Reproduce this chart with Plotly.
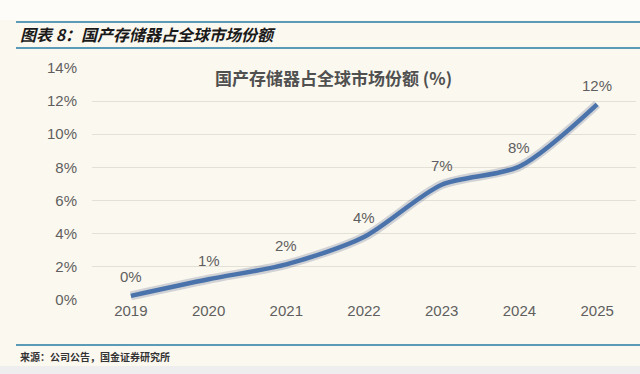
import plotly.graph_objects as go

years = [2019, 2020, 2021, 2022, 2023, 2024, 2025]
share = [0.25, 1.25, 2.15, 3.8, 6.95, 8.05, 11.8]
labels = ["0%", "1%", "2%", "4%", "7%", "8%", "12%"]
y_ticks = [0, 2, 4, 6, 8, 10, 12, 14]
y_tick_text = ["0%", "2%", "4%", "6%", "8%", "10%", "12%", "14%"]

fig_title = "图表 8：国产存储器占全球市场份额"
chart_title = "国产存储器占全球市场份额 (%)"
source = "来源：公司公告，国金证券研究所"

CJK = "Noto Sans CJK SC"
grey = "#5f5f5f"

fig = go.Figure()
# soft shadow
fig.add_trace(go.Scatter(x=years, y=share, mode="lines",
                         line=dict(color="rgba(40,60,110,0.2)", width=9, shape="spline", smoothing=0.8),
                         hoverinfo="skip", showlegend=False))
fig.add_trace(go.Scatter(x=years, y=share, mode="lines",
                         line=dict(color="#4a73ab", width=4.5, shape="spline", smoothing=0.8),
                         showlegend=False))

for x, y, t in zip(years, share, labels):
    fig.add_annotation(x=x, y=y, text=t, showarrow=False, yshift=19,
                       font=dict(family="Liberation Sans, Arial", size=15, color=grey))

H, T, B = 374, 67, 74
L, R = 92, 4
ph = H - T - B
pw = 640 - L - R


def py(p):
    return (H - B - p) / ph


def px(p):
    return (p - L) / pw


fig.update_layout(
    width=640, height=374,
    margin=dict(l=L, r=R, t=T, b=B),
    paper_bgcolor="#fbf8ef",
    plot_bgcolor="#fbf8ef",
    xaxis=dict(range=[2018.5, 2025.5], tickvals=years, ticktext=[str(y) for y in years],
               showgrid=False, zeroline=False, showline=False, ticks="",
               tickfont=dict(family="Liberation Sans, Arial", size=15, color=grey)),
    yaxis=dict(range=[0, 14.05], tickvals=y_ticks, ticktext=y_tick_text,
               showgrid=True, gridcolor="#e3e0d6", gridwidth=1, zeroline=False,
               showline=False, ticks="", ticklabelstandoff=14,
               tickfont=dict(family="Liberation Sans, Arial", size=15, color=grey)),
)

fig.add_shape(type="rect", xref="paper", yref="paper", x0=px(0), x1=px(640), y0=py(20), y1=py(0),
              fillcolor="#fdfcf9", line_width=0, layer="below")
fig.add_shape(type="rect", xref="paper", yref="paper", x0=px(0), x1=px(640), y0=py(374), y1=py(366),
              fillcolor="#eeeeee", line_width=0, layer="below")
for yy in [22, 48, 345]:
    fig.add_shape(type="line", xref="paper", yref="paper", x0=px(16), x1=px(640), y0=py(yy), y1=py(yy),
                  line=dict(color="#5b9bb8", width=2))

fig.add_annotation(xref="paper", yref="paper", x=px(18), y=py(34), xanchor="left", yanchor="middle",
                   text="<b><i>" + fig_title + "</i></b>", showarrow=False,
                   font=dict(family=CJK, size=16, color="#1a1a1a"))
fig.add_annotation(xref="paper", yref="paper", x=px(333), y=py(77), xanchor="center", yanchor="middle",
                   text="<b>" + chart_title + "</b>", showarrow=False,
                   font=dict(family=CJK, size=17, color="#505050"))
fig.add_annotation(xref="paper", yref="paper", x=px(18), y=py(356), xanchor="left", yanchor="middle",
                   text="<b>" + source + "</b>", showarrow=False,
                   font=dict(family=CJK, size=10, color="#333333"))

fig.write_html("out.html", config={"displayModeBar": False},
               post_script="document.body.style.margin='0';document.body.style.padding='0';document.body.style.background='#fbf8ef';")
